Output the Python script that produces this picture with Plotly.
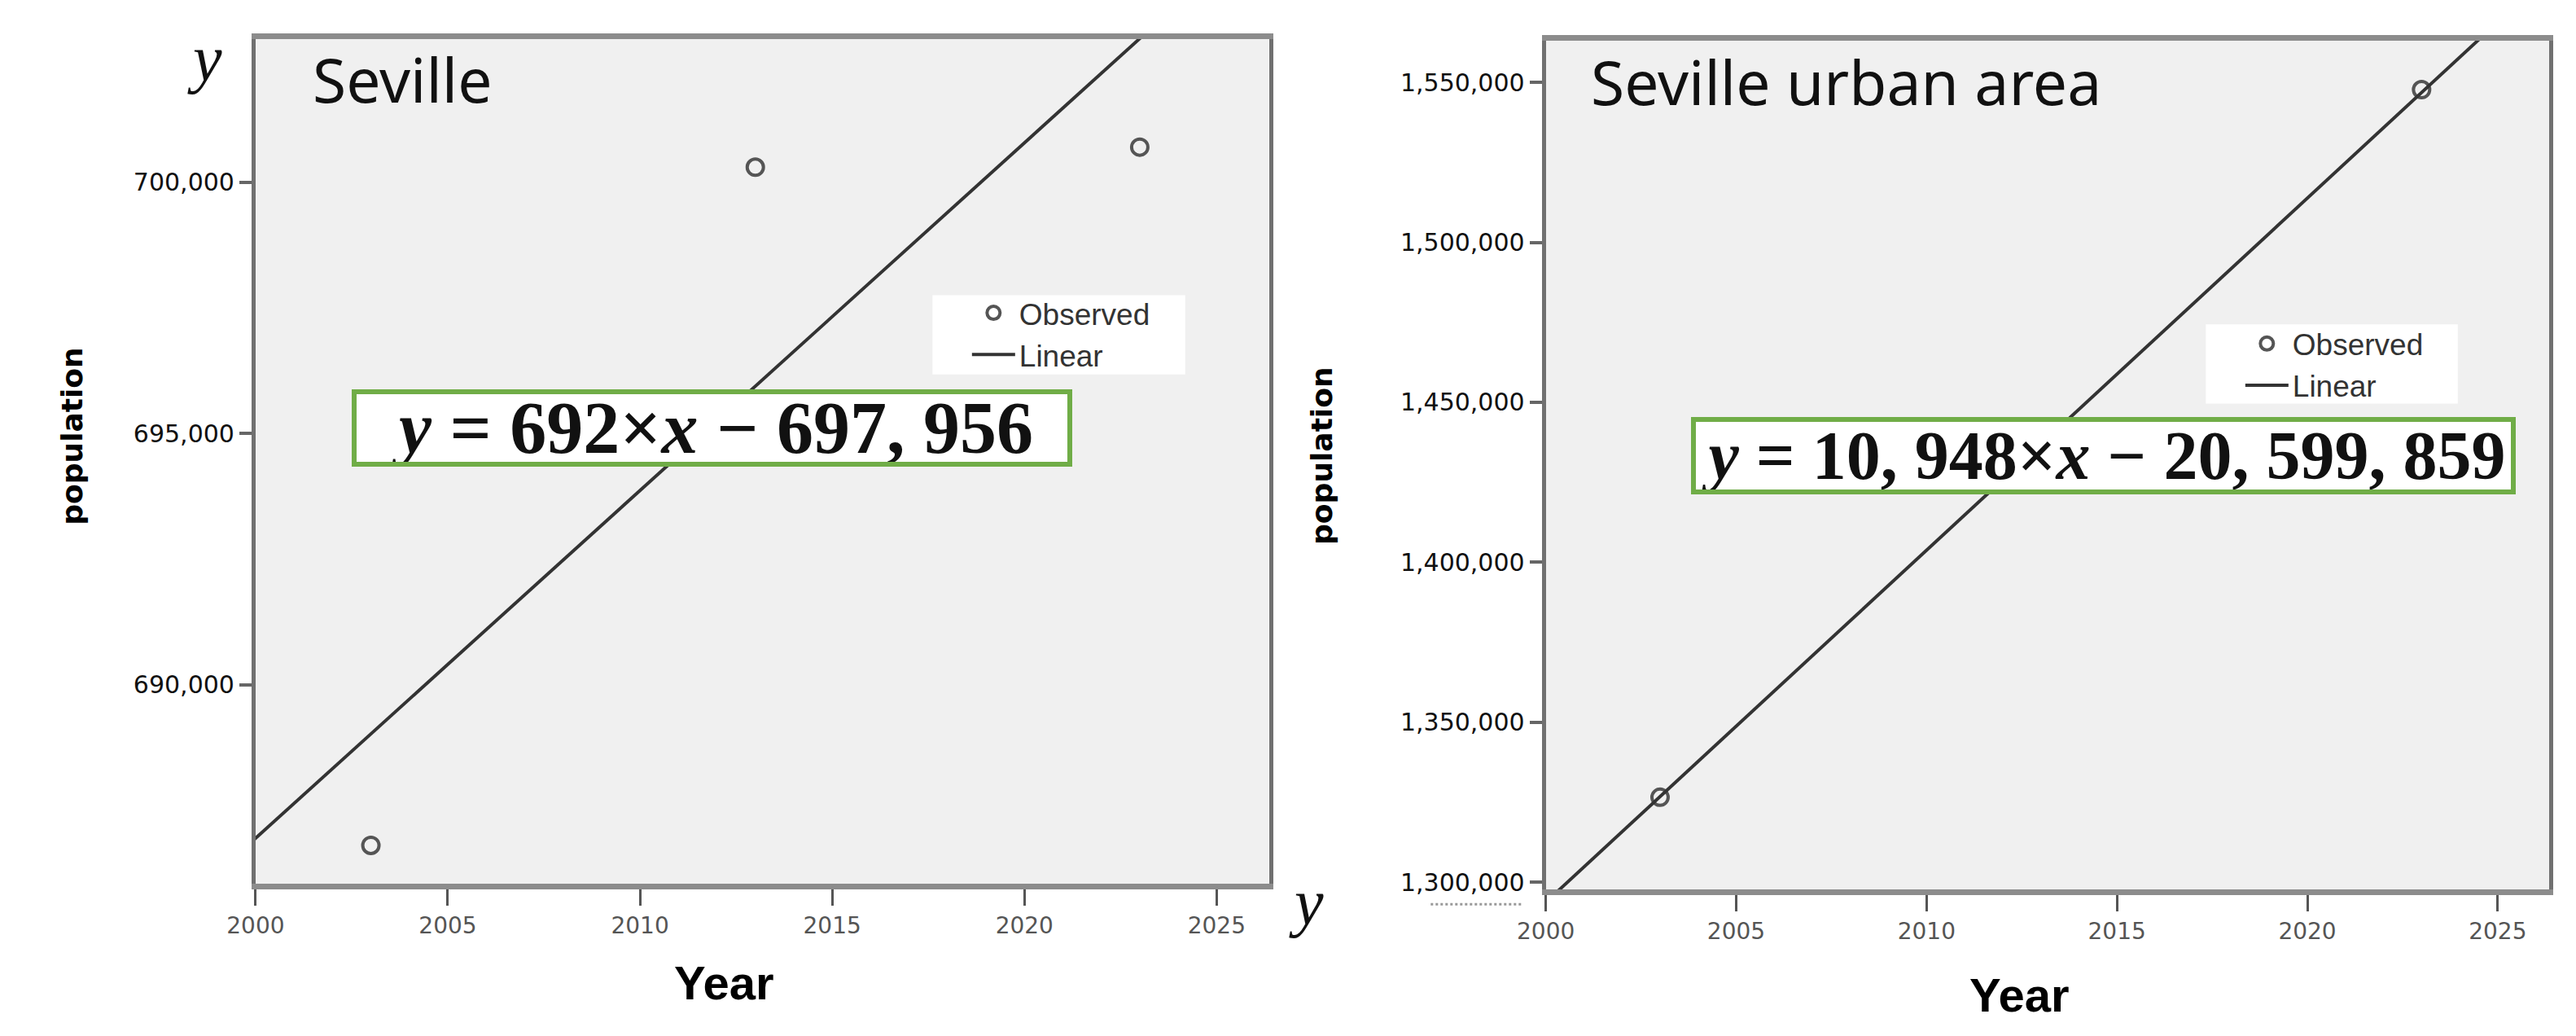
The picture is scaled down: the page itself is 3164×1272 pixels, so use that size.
import plotly.graph_objects as go

# values
years = [2003, 2013, 2023]
seville_pop = [686800, 700300, 700700]
urban_pop = [1326600, 1437200, 1547700]

# fitted line, read at both ends (clipped by the axes)
fit_years = [1999, 2027]
seville_fit = [686250, 705630]
urban_fit = [1282800, 1590800]

tick_years = [2000, 2005, 2010, 2015, 2020, 2025]
seville_ticks = [690000, 695000, 700000]
urban_ticks = [1300000, 1350000, 1400000, 1450000, 1500000, 1550000]

W, H = 3164, 1272


def px(x):
    return x / W


def py(y):
    return 1 - y / H


marker_style = dict(symbol='circle-open', size=20, color='#555555', line=dict(width=4))
line_style = dict(color='#333333', width=4)

fig = go.Figure()
fig.add_trace(go.Scatter(x=years, y=seville_pop, mode='markers', name='Observed',
                         marker=marker_style, xaxis='x', yaxis='y', legend='legend'))
fig.add_trace(go.Scatter(x=fit_years, y=seville_fit, mode='lines', name='Linear',
                         line=line_style, xaxis='x', yaxis='y', legend='legend'))
fig.add_trace(go.Scatter(x=years, y=urban_pop, mode='markers', name='Observed',
                         marker=marker_style, xaxis='x2', yaxis='y2', legend='legend2'))
fig.add_trace(go.Scatter(x=fit_years, y=urban_fit, mode='lines', name='Linear',
                         line=line_style, xaxis='x2', yaxis='y2', legend='legend2'))

xaxis_common = dict(range=[2000, 2026.36], tickvals=tick_years, ticks='outside', ticklen=20,
                    tickwidth=3, tickcolor='#555555', showline=True, linecolor='#8c8c8c',
                    linewidth=7, mirror=True, showgrid=False, zeroline=False,
                    tickfont=dict(family='DejaVu Sans', size=28, color='#555555'))
yaxis_common = dict(ticks='outside', ticklen=15, tickwidth=4, tickcolor='#666666',
                    showline=True, linecolor='#707070', linewidth=5, mirror=True,
                    showgrid=False, zeroline=False, tickformat=',',
                    tickfont=dict(family='DejaVu Sans', size=30, color='#111111'))

legend_common = dict(xanchor='left', yanchor='top', bgcolor='rgba(0,0,0,0)',
                     font=dict(family='Liberation Sans', size=37, color='#333333'),
                     tracegroupgap=0, itemwidth=53)

fig.update_layout(
    width=W, height=H,
    margin=dict(l=0, r=0, t=0, b=0),
    paper_bgcolor='white',
    plot_bgcolor='#f0f0f0',
    showlegend=True,
    xaxis=dict(domain=[px(273), px(1532)], anchor='y', **xaxis_common),
    yaxis=dict(domain=[py(1085), py(40)], anchor='x', range=[686032, 702855],
               tickvals=seville_ticks, **yaxis_common),
    xaxis2=dict(domain=[px(1876), px(3123)], anchor='y2', **xaxis_common),
    yaxis2=dict(domain=[py(1092), py(42)], anchor='x2', range=[1297740, 1563065],
                tickvals=urban_ticks, **yaxis_common),
    legend=dict(x=px(1158), y=py(348), **legend_common),
    legend2=dict(x=px(2740), y=py(386), **legend_common),
)

# white backdrops behind the legends
fig.add_shape(type='rect', xref='paper', yref='paper', x0=px(1114), x1=px(1428),
              y0=py(455), y1=py(357), fillcolor='white', line=dict(width=0), layer='above')
fig.add_shape(type='rect', xref='paper', yref='paper', x0=px(2696), x1=px(3009),
              y0=py(491), y1=py(393), fillcolor='white', line=dict(width=0), layer='above')

# leftover dotted stroke under the lowest right-hand tick label
fig.add_shape(type='line', xref='paper', yref='paper', x0=px(1733), x1=px(1848),
              y0=py(1110), y1=py(1110), line=dict(color='#999999', width=3, dash='dot'))

title_font = dict(family='Noto Sans', size=75, color='#111111')
axis_title_font = dict(family='Liberation Sans', size=58, color='#000000')
ylabel_font = dict(family='DejaVu Sans', size=36, color='#000000')
var_font = dict(family='Liberation Serif', size=80, color='#111111')

annotations = [
    dict(text='Seville', x=px(342), y=py(90), xanchor='left', yanchor='middle', font=title_font),
    dict(text='Seville urban area', x=px(1930), y=py(93), xanchor='left', yanchor='middle',
         font=title_font),
    dict(text='<b><i>y</i> = 692×<i>x</i> − 697, 956</b>', x=px(840.5), y=py(521.5),
         xanchor='center', yanchor='middle', width=873, height=83, align='center',
         bgcolor='white', bordercolor='#70ad47', borderwidth=6, borderpad=0,
         font=dict(family='Liberation Serif', size=90, color='#111111')),
    dict(text='<b><i>y</i> = 10, 948×<i>x</i> − 20, 599, 859</b>', x=px(2568.5), y=py(555.5),
         xanchor='center', yanchor='middle', width=1001, height=83, align='center',
         bgcolor='white', bordercolor='#70ad47', borderwidth=6, borderpad=0,
         font=dict(family='Liberation Serif', size=84, color='#111111')),
    dict(text='<b>Year</b>', x=px(855), y=py(1207), xanchor='center', yanchor='middle',
         font=axis_title_font),
    dict(text='<b>Year</b>', x=px(2465), y=py(1222), xanchor='center', yanchor='middle',
         font=axis_title_font),
    dict(text='<b>population</b>', x=px(45), y=py(531), textangle=-90, xanchor='center',
         yanchor='middle', font=ylabel_font),
    dict(text='<b>population</b>', x=px(1597), y=py(556), textangle=-90, xanchor='center',
         yanchor='middle', font=ylabel_font),
    dict(text='<i>y</i>', x=px(210), y=py(64), xanchor='center', yanchor='middle', font=var_font),
    dict(text='<i>y</i>', x=px(1578), y=py(1108), xanchor='center', yanchor='middle',
         font=var_font),
]
for a in annotations:
    a.setdefault('xref', 'paper')
    a.setdefault('yref', 'paper')
    a.setdefault('showarrow', False)
fig.update_layout(annotations=annotations)

fig.write_html("out.html")
